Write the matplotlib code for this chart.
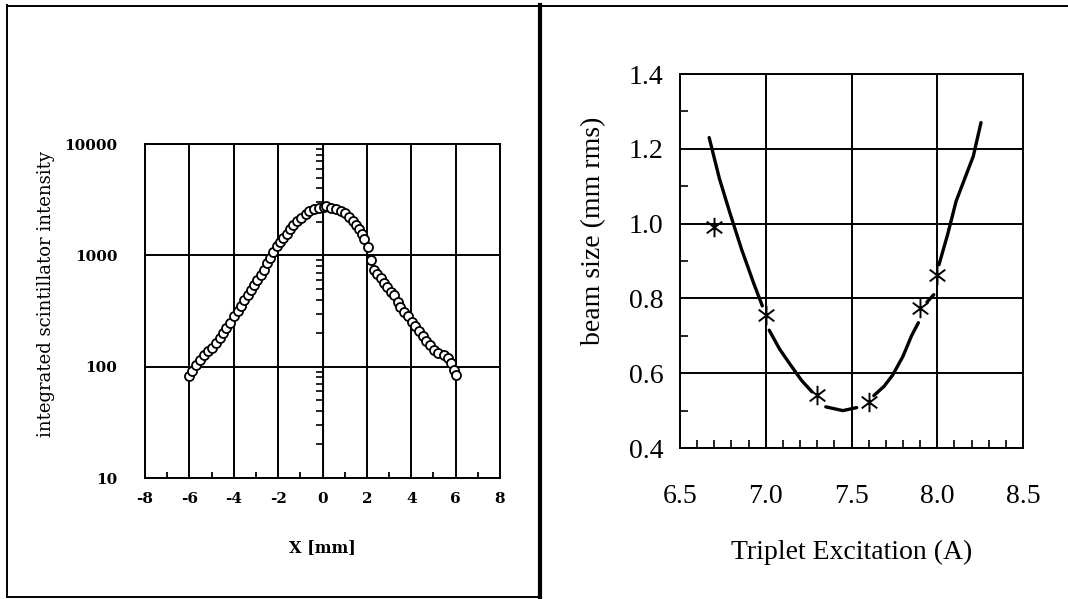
import matplotlib
matplotlib.use('Agg')
import matplotlib.pyplot as plt
import numpy as np
from matplotlib.lines import Line2D
from matplotlib.path import Path
from matplotlib.ticker import FixedLocator, MultipleLocator, LogLocator, NullFormatter, NullLocator

plt.rcParams['axes.unicode_minus'] = False

# left panel: scintillator profile
pos_mm = [-6.00, -5.88, -5.71, -5.51, -5.32, -5.15, -4.97, -4.82, -4.63, -4.49,
          -4.34, -4.19, -4.00, -3.82, -3.68, -3.53, -3.38, -3.24, -3.09, -2.94,
          -2.79, -2.65, -2.50, -2.38, -2.24, -2.06, -1.91, -1.76, -1.62, -1.47,
          -1.32, -1.15, -0.96, -0.76, -0.59, -0.37, -0.15, 0.07,
          0.18, 0.40, 0.62, 0.84, 1.02, 1.21, 1.36, 1.51, 1.66, 1.76,
          1.85, 2.03, 2.18, 2.30, 2.47, 2.62, 2.77, 2.92, 3.07, 3.24,
          3.39, 3.51, 3.66, 3.84, 4.03, 4.18, 4.37, 4.52, 4.67, 4.84,
          5.02, 5.21, 5.47, 5.66, 5.81, 5.91, 6.00]
intensity = [82, 92, 103, 115, 128, 137, 147, 163, 182, 202,
             224, 249, 283, 318, 354, 394, 437, 486, 540, 599,
             665, 739, 851, 946, 1073, 1208, 1324, 1441, 1567, 1718,
             1881, 2017, 2164, 2356, 2490, 2617, 2673, 2713,
             2748, 2673, 2617, 2524, 2387, 2228, 2047, 1881, 1718, 1545,
             1390, 1183, 912, 739, 675, 621, 570, 520, 469, 437,
             379, 342, 308, 283, 252, 232, 209, 188, 169, 155,
             142, 132, 128, 119, 107, 93, 84]

# right panel: beam size vs triplet excitation
excitation = [6.7, 7.0, 7.3, 7.6, 7.9, 8.0]
beam_size = [0.99, 0.755, 0.542, 0.524, 0.773, 0.863]

# hand drawn guide curve, NaN marks the breaks in the line
curve_x = [6.67, 6.73, 6.79, 6.86, 6.93, 6.98, np.nan,
           7.02, 7.08, 7.14, 7.21, 7.27, np.nan,
           7.35, 7.40, 7.45, 7.53, np.nan,
           7.63, 7.69, 7.74, 7.80, 7.85, 7.89, np.nan,
           7.94, 7.98, np.nan,
           8.01, 8.06, 8.11, 8.16, 8.21, 8.255]
curve_y = [1.23, 1.12, 1.03, 0.93, 0.84, 0.78, np.nan,
           0.715, 0.665, 0.625, 0.58, 0.55, np.nan,
           0.51, 0.505, 0.50, 0.508, np.nan,
           0.54, 0.565, 0.595, 0.645, 0.70, 0.735, np.nan,
           0.79, 0.81, np.nan,
           0.89, 0.97, 1.06, 1.12, 1.18, 1.27]

fig = plt.figure(figsize=(10.68, 5.99), dpi=100)

# frame lines of the scanned page
fig.add_artist(Line2D([7/1068, 7/1068], [1-5/599, 1-597/599], color='k', lw=1.4))
fig.add_artist(Line2D([7/1068, 1], [1-6/599, 1-6/599], color='k', lw=1.4))
fig.add_artist(Line2D([7/1068, 540/1068], [1-597/599, 1-597/599], color='k', lw=1.4))
fig.add_artist(Line2D([540/1068, 540/1068], [1-5/599, 0], color='k', lw=3))

# ---- left panel
lfont = dict(family='DejaVu Serif')
ax1 = fig.add_axes([145/1068, 1-478/599, 355/1068, 334/599])
ax1.set_yscale('log')
ax1.set_xlim(-8, 8)
ax1.set_ylim(10, 10000)
ax1.plot(pos_mm, intensity, 'o', ms=6.5, mfc='white', mec='black', mew=1.3, zorder=5)
ax1.set_xticks(np.arange(-8, 9, 2))
ax1.set_xticklabels([str(v) for v in range(-8, 9, 2)], fontweight='bold', fontsize=11, **lfont)
ax1.xaxis.set_minor_locator(FixedLocator(np.arange(-7, 8, 2)))
ax1.set_yticks([10, 100, 1000, 10000])
ax1.set_yticklabels(['10', '100', '1000', '10000'], fontweight='bold', fontsize=11, **lfont)
ax1.yaxis.set_minor_locator(NullLocator())
ax1.tick_params(which='major', length=0)
ax1.tick_params(axis='x', which='major', pad=10)
ax1.tick_params(axis='y', which='major', pad=20)
ax1.tick_params(axis='x', which='minor', direction='in', length=4, width=1.3)
ax1.grid(True, which='major', color='k', lw=1.4)
for s in ax1.spines.values():
    s.set_linewidth(1.4)
ax1.set_xlabel('X [mm]', fontweight='bold', fontsize=11.5, labelpad=24, **lfont)
ax1.set_ylabel('integrated scintillator intensity', fontsize=13, **lfont)
ax1.yaxis.set_label_coords(-0.254, 0.55)

# log minor ticks along the x = 0 line
sec = ax1.secondary_yaxis(0.5)
sec.yaxis.set_major_formatter(NullFormatter())
sec.yaxis.set_minor_locator(LogLocator(subs=np.arange(2, 10)))
sec.yaxis.set_minor_formatter(NullFormatter())
sec.tick_params(which='both', labelleft=False, labelright=False)
sec.tick_params(which='major', length=0)
sec.tick_params(which='minor', direction='in', length=5, width=1.2)
sec.spines['left'].set_linewidth(1.4)

# ---- right panel
rfont = dict(family='Liberation Serif')
ax2 = fig.add_axes([680/1068, 1-448/599, 343/1068, 374/599])
ax2.set_xlim(6.5, 8.5)
ax2.set_ylim(0.4, 1.4)
ax2.plot(curve_x, curve_y, '-', color='k', lw=2.4, solid_capstyle='round')

star = Path([(0, -1), (0, 1), (-0.8, -0.6), (0.8, 0.6), (-0.8, 0.6), (0.8, -0.6)],
            [Path.MOVETO, Path.LINETO, Path.MOVETO, Path.LINETO, Path.MOVETO, Path.LINETO])
ax2.plot(excitation, beam_size, ls='none', marker=star, ms=14, mec='k', mfc='none', mew=1.4, zorder=5)

ax2.xaxis.set_minor_locator(MultipleLocator(0.1))
ax2.yaxis.set_minor_locator(MultipleLocator(0.1))
ax2.set_xticks(np.arange(6.5, 8.51, 0.5))
ax2.set_xticklabels(['%.1f' % v for v in np.arange(6.5, 8.51, 0.5)], fontsize=20, **rfont)
ax2.set_yticks(np.arange(0.4, 1.41, 0.2))
ax2.set_yticklabels(['%.1f' % v for v in np.arange(0.4, 1.41, 0.2)], fontsize=20, **rfont)
ax2.tick_params(which='major', length=0)
ax2.tick_params(axis='x', which='major', pad=26)
ax2.tick_params(axis='y', which='major', pad=12)
ax2.tick_params(which='minor', direction='in', length=6, width=1.2)
ax2.grid(True, which='major', color='k', lw=1.4)
for s in ax2.spines.values():
    s.set_linewidth(1.4)
ax2.set_xlabel('Triplet Excitation (A)', fontsize=20, labelpad=22, **rfont)
ax2.set_ylabel('beam size (mm rms)', fontsize=20, **rfont)
ax2.yaxis.set_label_coords(-0.215, 0.58)

fig.savefig('out.png', dpi=100)
